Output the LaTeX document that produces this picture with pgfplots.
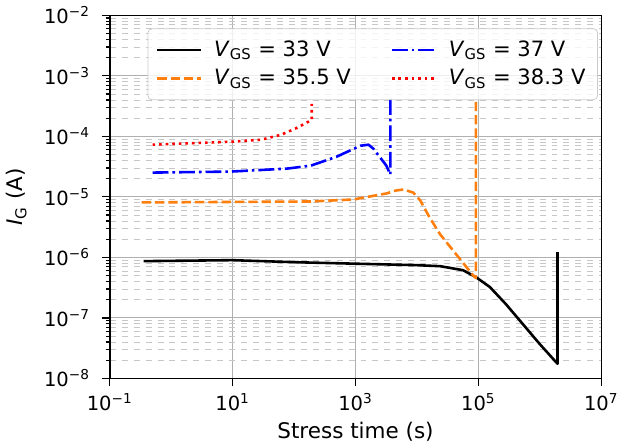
\documentclass[border=0pt]{standalone}
\usepackage{fontspec}
\setmainfont{DejaVu Sans}
\usepackage{pgfplots}
\pgfplotsset{compat=1.18}
\definecolor{taborange}{HTML}{FF7F0E}
\begin{document}
\fontsize{9.8}{12}\selectfont
\begin{tikzpicture}
\begin{loglogaxis}[
    width=247pt, height=182.5pt, scale only axis,
    xmin=0.1, xmax=1e7, ymin=1e-8, ymax=1e-2,
    xtick={0.1,10,1000,100000,10000000},
    xticklabels={10\textsuperscript{−1},10\textsuperscript{1},10\textsuperscript{3},10\textsuperscript{5},10\textsuperscript{7}},
    ytick={1e-8,1e-7,1e-6,1e-5,1e-4,1e-3,1e-2},
    yticklabels={10\textsuperscript{−8},10\textsuperscript{−7},10\textsuperscript{−6},10\textsuperscript{−5},10\textsuperscript{−4},10\textsuperscript{−3},10\textsuperscript{−2}},
    minor ytick={2e-8,3e-8,4e-8,5e-8,6e-8,7e-8,8e-8,9e-8,
                 2e-7,3e-7,4e-7,5e-7,6e-7,7e-7,8e-7,9e-7,
                 2e-6,3e-6,4e-6,5e-6,6e-6,7e-6,8e-6,9e-6,
                 2e-5,3e-5,4e-5,5e-5,6e-5,7e-5,8e-5,9e-5,
                 2e-4,3e-4,4e-4,5e-4,6e-4,7e-4,8e-4,9e-4,
                 2e-3,3e-3,4e-3,5e-3,6e-3,7e-3,8e-3,9e-3},
    xminorticks=false,
    xtick pos=bottom, ytick pos=left,
    tick align=outside,
    major tick length=4pt, minor tick length=2pt,
    every tick/.style={black, line width=0.6pt},
    axis line style={line width=0.7pt},
    yticklabel shift=2.5pt,
    xmajorgrids, ymajorgrids, yminorgrids,
    major grid style={draw=black!31, line width=0.5pt},
    minor grid style={draw=black!22, dashed, line width=0.3pt},
    label style={font=\fontsize{10.8}{13}\selectfont},
    xlabel={Stress time (s)},
    ylabel={\textit{I}\textsubscript{G} (A)},
    xlabel style={yshift=1pt},
    ylabel style={yshift=2pt},
    legend columns=2, transpose legend,
    legend cell align=left,
    legend image code/.code={\draw[#1] (0pt,0pt) -- (22pt,0pt);},
    legend style={at={(0.535,0.964)}, anchor=north,
        font=\fontsize{10.6}{12.5}\selectfont,
        draw=black!20, rounded corners=2pt, fill=white, fill opacity=0.8, text opacity=1,
        inner sep=4pt, row sep=1pt,
        /tikz/column 1/.style={column sep=4pt},
        /tikz/column 3/.style={column sep=4pt},
        /tikz/column 2/.style={column sep=18pt}},
]
\addplot[black, line width=1.3pt, line join=round] coordinates {
    (0.356,8.67e-7) (9.8,9.0e-7) (99,8.34e-7) (1000,7.87e-7) (9700,7.45e-7)
    (2.38e4,7.16e-7) (5.61e4,6.15e-7) (9.12e4,4.72e-7) (1.535e5,3.24e-7)
    (2.79e5,1.70e-7) (5.26e5,7.96e-8) (9.9e5,3.73e-8) (1.94e6,1.75e-8) (1.94e6,1.22e-6)
};
\addlegendentry{\textit{V}\textsubscript{GS} = 33 V}
\addplot[taborange, line width=1.3pt, line join=round, dash pattern=on 4.7pt off 2pt] coordinates {
    (0.33,8.09e-6) (187,8.39e-6) (929,9.06e-6) (3177,1.138e-5) (4500,1.27e-5) (5984,1.324e-5)
    (8690,1.18e-5) (1.13e4,8.73e-6) (1.6e4,4.6e-6) (2.38e4,2.41e-6) (4.33e4,1.13e-6) (8.15e4,5.09e-7)
    (9.12e4,4.55e-7) (9.12e4,4.3e-4)
};
\addlegendentry{\textit{V}\textsubscript{GS} = 35.5 V}
\addplot[blue, line width=1.3pt, line join=round, dash pattern=on 8pt off 2pt on 1.3pt off 2pt] coordinates {
    (0.497,2.52e-5) (9.46,2.62e-5) (76.4,2.93e-5) (187,3.28e-5) (492,4.61e-5)
    (1205,7.0e-5) (1626,7.28e-5) (1954,6.25e-5) (3177,3.28e-5) (3690,2.33e-5) (3690,4.3e-4)
};
\addlegendentry{\textit{V}\textsubscript{GS} = 37 V}
\addplot[red, line width=1.3pt, line join=round, dash pattern=on 1.3pt off 2pt] coordinates {
    (0.497,7.28e-5) (9.46,8.15e-5) (29.0,8.79e-5) (61,1.06e-4) (111,1.38e-4)
    (194,1.87e-4) (194,3.44e-4)
};
\addlegendentry{\textit{V}\textsubscript{GS} = 38.3 V}
\end{loglogaxis}
\end{tikzpicture}
\end{document}
